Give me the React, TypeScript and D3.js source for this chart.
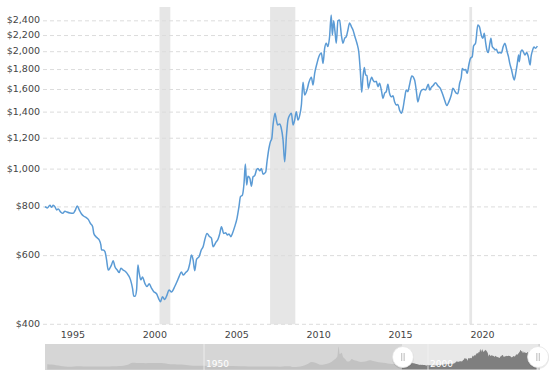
import React from "react";
import * as d3 from "d3";

// ---- Main series (inflation-adjusted gold price, decimal year / USD) ----
const years: number[] = [
  1994.18, 1994.32, 1994.48, 1994.59, 1994.68, 1994.79, 1994.89, 1994.99, 1995.13, 1995.26,
  1995.40, 1995.50, 1995.70, 1995.90, 1996.01, 1996.15, 1996.27, 1996.41, 1996.55, 1996.68,
  1996.82, 1996.96, 1997.09, 1997.16, 1997.29, 1997.39, 1997.49, 1997.59, 1997.63, 1997.73,
  1997.84, 1997.94, 1998.04, 1998.14, 1998.24, 1998.34, 1998.45, 1998.59, 1998.71, 1998.81,
  1998.95, 1999.12, 1999.26, 1999.40, 1999.52, 1999.60, 1999.68, 1999.77, 1999.85, 1999.93,
  2000.03, 2000.13, 2000.27, 2000.41, 2000.54, 2000.68, 2000.82, 2000.99, 2001.11, 2001.23,
  2001.35, 2001.49, 2001.63, 2001.75, 2001.90, 2002.10, 2002.24, 2002.37, 2002.51, 2002.61,
  2002.77, 2002.91, 2003.02, 2003.12, 2003.22, 2003.32, 2003.43, 2003.59, 2003.73, 2003.83,
  2003.93, 2004.07, 2004.20, 2004.34, 2004.44, 2004.60, 2004.74, 2004.85, 2004.95, 2005.09,
  2005.21, 2005.32, 2005.41, 2005.52, 2005.62, 2005.76, 2005.90, 2006.02, 2006.11, 2006.23,
  2006.33, 2006.41, 2006.49, 2006.57, 2006.68, 2006.78, 2006.88, 2006.98, 2007.09, 2007.18,
  2007.29, 2007.39, 2007.49, 2007.65, 2007.73, 2007.85, 2007.94, 2008.02, 2008.10, 2008.22,
  2008.30, 2008.38, 2008.51, 2008.59, 2008.71, 2008.81, 2008.92, 2009.01, 2009.12, 2009.22,
  2009.32, 2009.42, 2009.52, 2009.62, 2009.73, 2009.83, 2009.93, 2010.03, 2010.17, 2010.30,
  2010.44, 2010.54, 2010.64, 2010.78, 2010.90, 2011.05, 2011.15, 2011.25, 2011.35, 2011.45,
  2011.55, 2011.65, 2011.72, 2011.80, 2011.88, 2011.96, 2012.06, 2012.16, 2012.27, 2012.37,
  2012.47, 2012.57, 2012.67, 2012.77, 2012.88, 2012.98, 2013.10, 2013.22, 2013.34, 2013.43,
  2013.51, 2013.59, 2013.67, 2013.75, 2013.83, 2013.92, 2014.00, 2014.12, 2014.20, 2014.30,
  2014.40, 2014.50, 2014.60, 2014.71, 2014.81, 2014.91, 2015.01, 2015.11, 2015.21, 2015.32,
  2015.42, 2015.52, 2015.62, 2015.72, 2015.82, 2015.93, 2016.03, 2016.13, 2016.23, 2016.33,
  2016.43, 2016.57, 2016.74, 2016.84, 2016.94, 2017.04, 2017.15, 2017.29, 2017.41, 2017.49,
  2017.58, 2017.66, 2017.76, 2017.86, 2018.02, 2018.16, 2018.31, 2018.43, 2018.57, 2018.71,
  2018.83, 2018.98, 2019.08, 2019.18, 2019.28, 2019.38, 2019.49, 2019.59, 2019.65, 2019.75,
  2019.85, 2019.95, 2020.05, 2020.15, 2020.26, 2020.34, 2020.46, 2020.60, 2020.70, 2020.81,
  2020.91, 2020.99, 2021.07, 2021.15, 2021.24, 2021.32, 2021.40, 2021.48, 2021.57, 2021.65,
  2021.73, 2021.83, 2021.94, 2022.04, 2022.14, 2022.25, 2022.31, 2022.39, 2022.47, 2022.55,
  2022.66, 2022.76, 2022.82, 2022.93, 2023.01, 2023.09, 2023.13, 2023.22, 2023.30, 2023.38,
  2023.48, 2023.58, 2023.68, 2023.79, 2023.85, 2023.93, 2024.03, 2024.13, 2024.23,
];
const prices: number[] = [
  801, 795, 808, 798, 808, 800, 786, 790, 777, 770,
  780, 777, 772, 770, 782, 804, 786, 767, 757, 752,
  743, 725, 712, 684, 671, 665, 658, 639, 620, 620,
  614, 585, 551, 557, 568, 582, 562, 551, 543, 557,
  551, 545, 535, 520, 495, 472, 472, 490, 568, 541,
  520, 529, 510, 500, 508, 495, 485, 479, 466, 457,
  471, 463, 476, 490, 484, 500, 515, 531, 545, 535,
  543, 551, 573, 602, 585, 549, 587, 597, 622, 632,
  658, 684, 673, 665, 632, 648, 661, 684, 712, 684,
  687, 678, 682, 671, 684, 712, 748, 801, 850, 858,
  921, 1030, 910, 958, 948, 904, 956, 962, 995, 1004,
  990, 1004, 970, 982, 1044, 1131, 1176, 1195, 1298, 1390,
  1338, 1298, 1306, 1280, 1188, 1044, 1223, 1338, 1376, 1390,
  1298, 1336, 1404, 1336, 1376, 1460, 1670, 1549, 1595, 1674,
  1720, 1643, 1760, 1866, 1943, 1985, 1866, 2041, 2102, 2061,
  2185, 2484, 2208, 2400, 2254, 2102, 2400, 2412, 2208, 2102,
  2165, 2185, 2274, 2370, 2320, 2274, 2185, 2102, 1985, 1778,
  1574, 1720, 1823, 1743, 1738, 1611, 1660, 1720, 1692, 1674,
  1680, 1627, 1660, 1595, 1518, 1565, 1580, 1650, 1565, 1533,
  1541, 1487, 1460, 1465, 1418, 1390, 1430, 1518, 1595, 1580,
  1643, 1732, 1692, 1595, 1487, 1541, 1590, 1602, 1595, 1620,
  1650, 1595, 1620, 1635, 1665, 1635, 1611, 1565, 1504, 1455,
  1487, 1549, 1611, 1590, 1565, 1560, 1660, 1720, 1812, 1795,
  1800, 1760, 1849, 1923, 1943, 2069, 2102, 2342, 2316, 2208,
  2165, 2230, 2120, 2021, 1990, 2081, 2165, 2061, 2041, 2021,
  2030, 1985, 1990, 1985, 2055, 2102, 2069, 1998, 1943, 1866,
  1795, 1720, 1692, 1778, 1866, 1962, 1885, 1998, 2021, 1998,
  1962, 1990, 1943, 1849, 1943, 2010, 2055, 2041, 2069,
];

// ---- Recessions (start, end) ----
const recessionStarts: number[] = [2001.17, 2007.92, 2020.08];
const recessionEnds: number[] = [2001.83, 2009.46, 2020.25];

// ---- Axis ticks ----
const yTicks: number[] = [400, 600, 800, 1000, 1200, 1400, 1600, 1800, 2000, 2200, 2400];
const xTickYears: number[] = [1995, 2000, 2005, 2010, 2015, 2020];

// ---- Navigator history (pre-1994, annual-ish) ----
const navYears: number[] = [
  1915, 1916, 1917, 1918, 1919, 1920, 1921, 1922, 1923, 1924, 1925, 1926, 1927, 1928, 1929,
  1930, 1931, 1932, 1933, 1934, 1935, 1936, 1937, 1938, 1939, 1940, 1941, 1942, 1943, 1944,
  1945, 1946, 1947, 1948, 1949, 1950, 1952, 1955, 1958, 1960, 1962, 1965, 1967, 1968, 1969,
  1970, 1971, 1972, 1973, 1974, 1975, 1976, 1977, 1978, 1979, 1979.75, 1980.05, 1980.3, 1980.75,
  1981, 1981.5, 1982, 1982.5, 1983, 1983.5, 1984, 1985, 1986, 1987, 1988, 1989, 1990, 1991,
  1992, 1993, 1993.9,
];
const navPrices: number[] = [
  630, 590, 500, 430, 370, 320, 360, 380, 375, 370, 365, 360, 365, 370, 370,
  380, 420, 465, 560, 810, 790, 780, 755, 770, 780, 775, 740, 665, 625, 615,
  600, 555, 485, 450, 455, 450, 415, 410, 385, 375, 365, 350, 330, 380, 390,
  300, 340, 420, 620, 900, 780, 560, 630, 780, 1150, 1550, 2750, 1850, 2000,
  1550, 1250, 950, 1000, 1250, 1100, 1050, 900, 950, 1100, 980, 880, 800, 720,
  660, 700, 780,
];
const navLabelYears: number[] = [1950, 2000];

const FONT = "'DejaVu Sans', Verdana, sans-serif";

export default function App() {
  const W = 555;
  const H = 377;

  const x = d3.scaleLinear().domain([1994.18, 2024.23]).range([45, 537.3]);
  const y = d3.scaleLog().domain([400, 2604]).range([324.3, 7]);

  const data = years.map((t, i) => ({ t, v: prices[i] }));
  const line = d3
    .line<{ t: number; v: number }>()
    .x((d) => x(d.t))
    .y((d) => y(d.v))
    .curve(d3.curveMonotoneX);

  // Navigator
  const navTop = 344;
  const navBottom = 370;
  const nx = d3.scaleLinear().domain([1914.5, 2025]).range([45, 540]);
  const ny = d3.scaleLinear().domain([0, 2700]).range([369.5, 347]);
  const navData = [
    ...navYears.map((t, i) => ({ t, v: navPrices[i] })),
    ...data,
  ];
  const area = d3
    .area<{ t: number; v: number }>()
    .x((d) => nx(d.t))
    .y0(369.5)
    .y1((d) => ny(d.v))
    .curve(d3.curveMonotoneX);
  const selX0 = nx(years[0]);
  const selX1 = nx(years[years.length - 1]);

  const handle = (cx: number, key: string) => (
    <g key={key}>
      <circle cx={cx} cy={357} r={11} fill="#000" opacity={0.08} transform="translate(0,1)" />
      <circle cx={cx} cy={357} r={10.5} fill="#ffffff" stroke="#e4e4e4" strokeWidth={0.8} />
      <line x1={cx - 1.2} x2={cx - 1.2} y1={353} y2={361} stroke="#aaa" strokeWidth={0.8} />
      <line x1={cx + 1.2} x2={cx + 1.2} y1={353} y2={361} stroke="#aaa" strokeWidth={0.8} />
    </g>
  );

  return (
    <svg
      width={W}
      height={H}
      style={{ position: "absolute", left: 0, top: 0, background: "#fff" }}
      fontFamily={FONT}
    >
      <rect x={0} y={0} width={W} height={H} fill="#ffffff" />
      {/* recession bands */}
      {recessionStarts.map((s, i) => (
        <rect
          key={"r" + i}
          x={x(s)}
          y={7}
          width={Math.max(2.5, x(recessionEnds[i]) - x(s))}
          height={324.3 - 7}
          fill="#e6e6e6"
        />
      ))}
      {/* grid + y labels */}
      {yTicks.map((v) => (
        <g key={"y" + v}>
          <line
            x1={43}
            x2={537}
            y1={y(v)}
            y2={y(v)}
            stroke="#dcdcdc"
            strokeWidth={1}
            strokeDasharray="4,3"
          />
          <text
            x={40}
            y={y(v)}
            textAnchor="end"
            dominantBaseline="middle"
            fontSize={9.5}
            fill="#444"
          >
            {"$" + d3.format(",")(v)}
          </text>
        </g>
      ))}
      {/* price line */}
      <path d={line(data) ?? ""} fill="none" stroke="#5b9bd5" strokeWidth={1.5} strokeLinejoin="round" />
      {/* x labels */}
      {xTickYears.map((yr) => (
        <text
          key={"x" + yr}
          x={x(yr) + 14.5}
          y={335.5}
          textAnchor="middle"
          dominantBaseline="middle"
          fontSize={9.5}
          fill="#444"
        >
          {yr}
        </text>
      ))}
      {/* navigator */}
      <defs>
        <clipPath id="navSel">
          <rect x={selX0} y={navTop} width={selX1 - selX0 + 2} height={navBottom - navTop} />
        </clipPath>
        <clipPath id="navAll">
          <rect x={45} y={navTop} width={495} height={navBottom - navTop} />
        </clipPath>
      </defs>
      <rect x={45} y={navTop} width={495} height={navBottom - navTop} fill="#d6d6d6" />
      <g clipPath="url(#navAll)">
        <path d={area(navData) ?? ""} fill="#c2c2c2" />
      </g>
      <g clipPath="url(#navSel)">
        <rect x={selX0} y={navTop} width={selX1 - selX0 + 2} height={navBottom - navTop} fill="#e8e8e8" />
        <path d={area(navData) ?? ""} fill="#7f7f7f" />
      </g>
      {navLabelYears.map((yr) => (
        <g key={"n" + yr}>
          <line x1={nx(yr)} x2={nx(yr)} y1={navTop} y2={navBottom} stroke="#f2f2f2" strokeWidth={0.8} />
          <text x={nx(yr) + 2} y={364.5} fontSize={9} fill="#ffffff" dominantBaseline="middle">
            {yr}
          </text>
        </g>
      ))}
      {handle(selX0 + 1, "h0")}
      {handle(selX1 + 1.5, "h1")}
    </svg>
  );
}
